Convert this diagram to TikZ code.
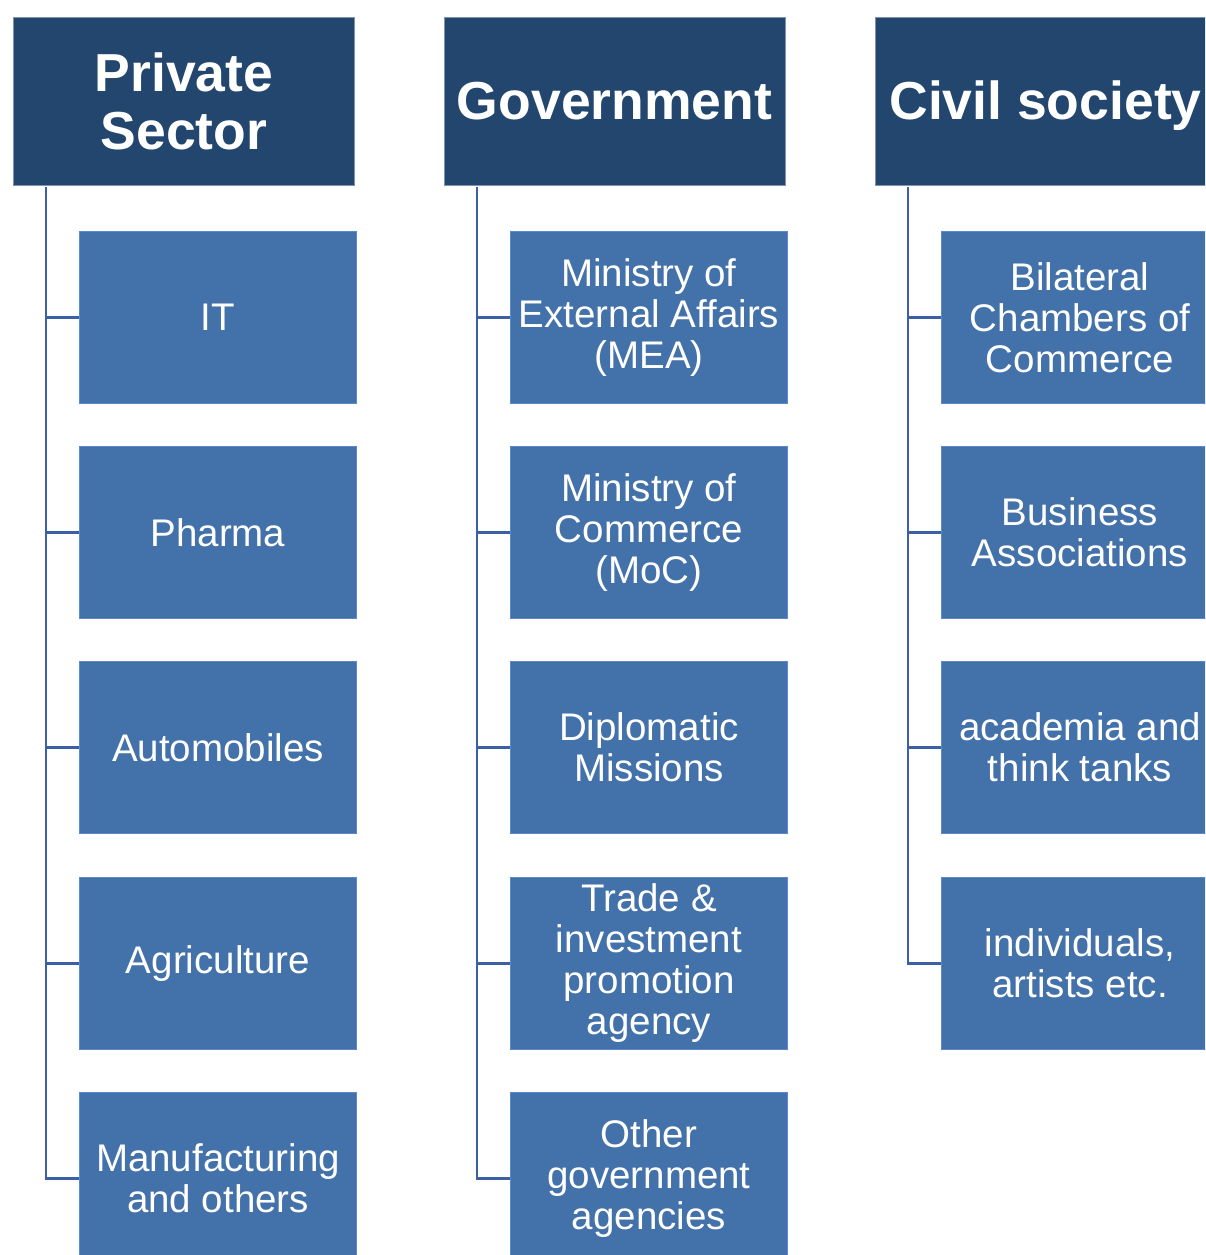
\documentclass[tikz,border=0pt]{standalone}
\usepackage{fontspec}
\setmainfont{Liberation Sans}
\definecolor{hdr}{HTML}{23466F}
\definecolor{hdrline}{HTML}{7F93AE}
\definecolor{child}{HTML}{4371A9}
\definecolor{childline}{HTML}{5A89D0}
\definecolor{conncol}{HTML}{3C5FA6}
\tikzset{
  header/.style={draw=hdrline, line width=0.8pt, fill=hdr, text=white,
    minimum width=341pt, minimum height=168pt, inner sep=0pt, align=center,
    font=\fontsize{53.5pt}{58pt}\selectfont\bfseries},
  childbox/.style={draw=childline, line width=1pt, fill=child, text=white,
    minimum width=277pt, minimum height=172pt, inner sep=0pt, align=center,
    font=\fontsize{38.5pt}{41pt}\selectfont},
  conn/.style={draw=conncol, line width=2.2pt}
}
\begin{document}
\begin{tikzpicture}[x=1pt,y=1pt]
\useasboundingbox (0,0) rectangle (1205,-1255);
\clip (0,0) rectangle (1205,-1255);
% headers
\node[header] (ps) at (184,-101.5) {Private\\Sector};
\node[header] (gov) at (614.5,-101.5) {Government};
\node[header] (cs) at (1045.5,-101.5) {};
\node[text=white, font=\fontsize{53.5pt}{58pt}\selectfont\bfseries] (cstext) at (1045.5,-105.5) {Civil society};
% private sector children
\node[childbox] (p1) at (218,-317.5) {IT};
\node[childbox] (p2) at (218,-532.5) {Pharma};
\node[childbox] (p3) at (218,-747.5) {Automobiles};
\node[childbox] (p4) at (218,-963.5) {Agriculture};
\node[childbox] (p5) at (218,-1178.5) {Manufacturing\\and others};
% government children
\node[childbox] (g1) at (649,-317.5) {Ministry of\\External Affairs\\(MEA)};
\node[childbox] (g2) at (649,-532.5) {Ministry of\\Commerce\\(MoC)};
\node[childbox] (g3) at (649,-747.5) {Diplomatic\\Missions};
\node[childbox] (g4) at (649,-963.5) {Trade \&\\investment\\promotion\\agency};
\node[childbox] (g5) at (649,-1178.5) {Other\\government\\agencies};
% civil society children
\node[childbox] (c1) at (1080,-317.5) {Bilateral\\Chambers of\\Commerce};
\node[childbox] (c2) at (1080,-532.5) {Business\\Associations};
\node[childbox] (c3) at (1080,-747.5) {academia and\\think tanks};
\node[childbox] (c4) at (1080,-963.5) {individuals,\\artists etc.};
% connectors
\foreach \h/\last/\kids in {ps/p5/{p1,p2,p3,p4}, gov/g5/{g1,g2,g3,g4}, cs/c4/{c1,c2,c3}}{
  \coordinate (\h-top) at ([xshift=33pt,yshift=-1pt]\h.south west);
  \draw[conn] (\h-top) |- (\last.west);
  \foreach \k in \kids {
    \draw[conn] (\h-top |- \k.west) -- (\k.west);
  }
}
\end{tikzpicture}
\end{document}
